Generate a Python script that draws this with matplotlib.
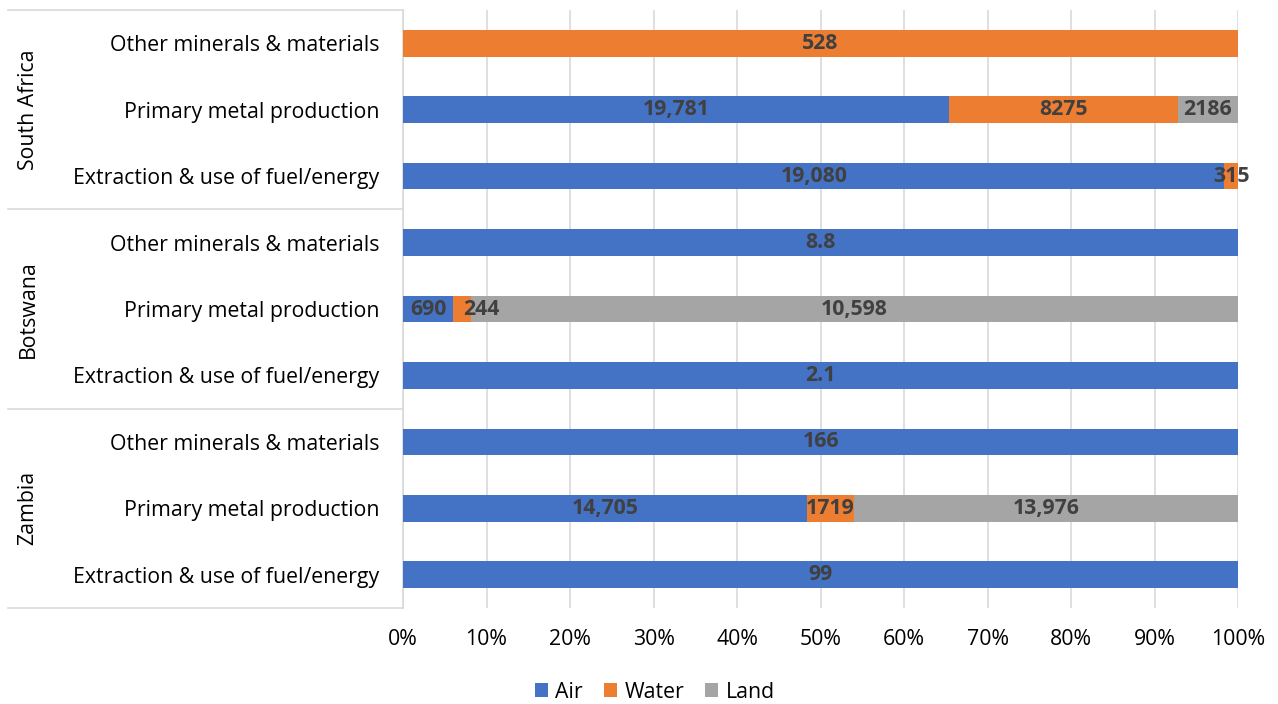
import numpy as np
import matplotlib.pyplot as plt
from matplotlib.lines import Line2D
from matplotlib.transforms import offset_copy

plt.rcParams['font.family'] = ['Open Sans', 'DejaVu Sans']

countries = ['South Africa', 'Botswana', 'Zambia']
sectors = ['Other minerals & materials', 'Primary metal production',
           'Extraction & use of fuel/energy']

# rows top to bottom: SA (other, primary, extraction), Botswana (...), Zambia (...)
air = [0, 19781, 19080, 8.8, 690, 2.1, 166, 14705, 99]
water = [528, 8275, 315, 0, 244, 0, 0, 1719, 0]
land = [0, 2186, 0, 0, 10598, 0, 0, 13976, 0]

series = [('Air', air, '#4472C4'), ('Water', water, '#ED7D31'), ('Land', land, '#A5A5A5')]


def fmt(v):
    if v != int(v):
        return f'{v:g}'
    v = int(v)
    return f'{v:,}' if v >= 10000 else str(v)


W, H = 1278, 704
FS = 15.3
fig = plt.figure(figsize=(W / 100, H / 100), dpi=100)
x0, x1, y0, y1 = 403, 1238, 10, 608
ax = fig.add_axes([x0 / W, 1 - y1 / H, (x1 - x0) / W, (y1 - y0) / H])

# small nudges for crowded labels (points), like Excel does
nudge = {('Water', 4): 14}

n = len(air)
ypos = np.arange(n)
totals = np.array(air) + np.array(water) + np.array(land)
left = np.zeros(n)
for name, vals, col in series:
    frac = np.array(vals) / totals
    ax.barh(ypos, frac, left=left, height=0.4, color=col, label=name, zorder=3)
    for i, (f, v) in enumerate(zip(frac, vals)):
        if v > 0:
            tr = offset_copy(ax.transData, fig=fig, x=nudge.get((name, i), 0), units='points')
            ax.text(left[i] + f / 2, ypos[i], fmt(v), ha='center', va='center',
                    fontsize=FS, fontweight='bold', color='#404040', zorder=4,
                    transform=tr)
    left += frac

ax.set_xlim(0, 1)
ax.set_ylim(n - 0.5, -0.5)
ticks = np.linspace(0, 1, 11)
ax.set_xticks(ticks)
ax.set_xticklabels([f'{int(round(t * 100))}%' for t in ticks])
ax.set_yticks(ypos)
ax.set_yticklabels(sectors * 3)
ax.tick_params(axis='both', length=0, labelsize=FS, labelcolor='black')
ax.tick_params(axis='y', pad=17)
ax.tick_params(axis='x', pad=15)
ax.grid(axis='x', color='#D9D9D9', linewidth=1.2, zorder=0)
for s in ['top', 'right', 'bottom']:
    ax.spines[s].set_visible(False)
ax.spines['left'].set_color('#D9D9D9')
ax.spines['left'].set_linewidth(1.2)

# group separators and country labels
for k in range(4):
    yy = 1 - (y0 + k * (y1 - y0) / 3) / H
    fig.add_artist(Line2D([8 / W, x0 / W], [yy, yy], color='#D9D9D9', linewidth=1.2))
for k, c in enumerate(countries):
    yc = 1 - (y0 + (k + 0.5) * (y1 - y0) / 3) / H
    fig.text(28 / W, yc, c, rotation=90, ha='center', va='center', fontsize=FS)

leg = ax.legend(loc='center', ncol=3, frameon=False, fontsize=FS,
                handlelength=0.6, handleheight=0.6, columnspacing=1.0, handletextpad=0.35,
                bbox_to_anchor=(655 / W, 1 - 692 / H), bbox_transform=fig.transFigure)

fig.savefig('out.png', dpi=100)
